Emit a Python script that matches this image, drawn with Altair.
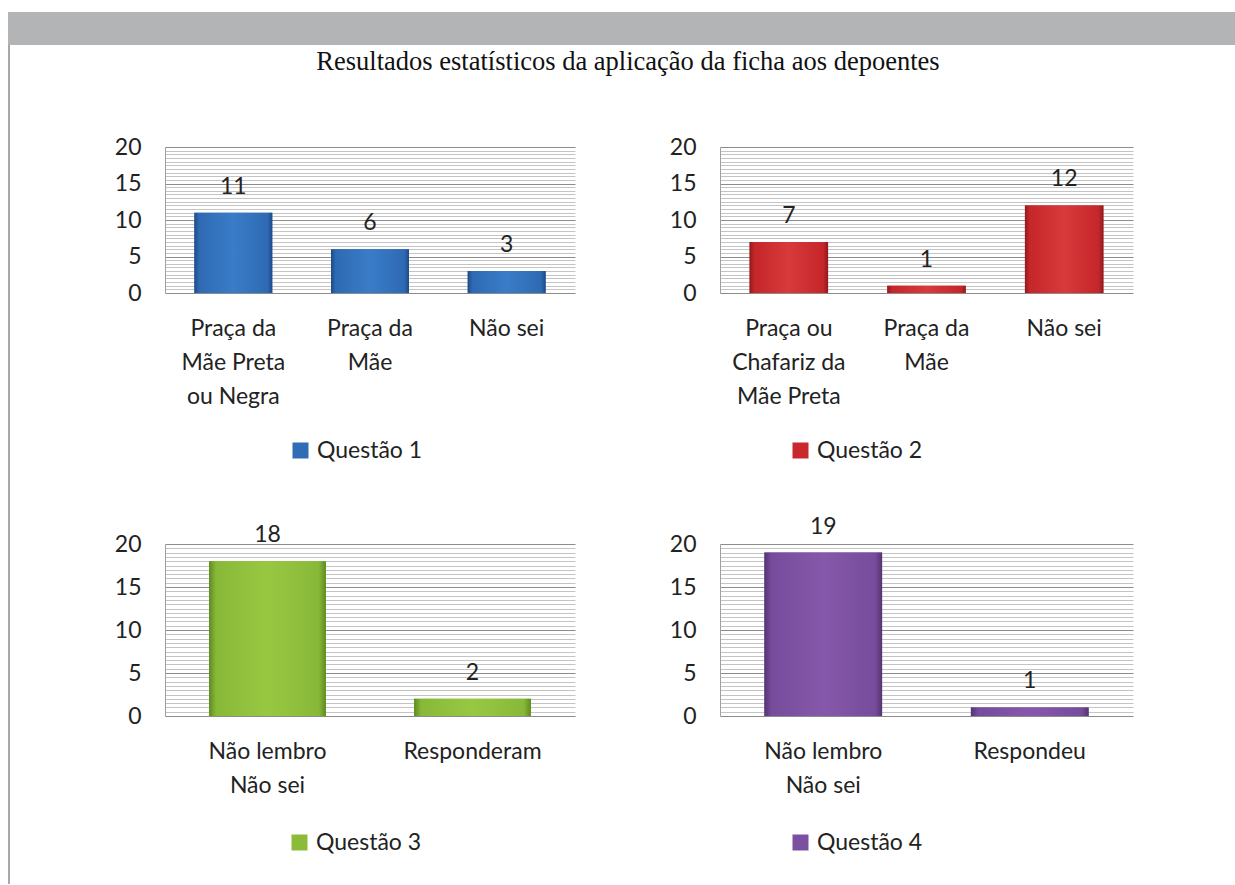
import altair as alt
import pandas as pd

TITLE = "Resultados estatísticos da aplicação da ficha aos depoentes"

cats1 = ["Praça da|Mãe Preta|ou Negra", "Praça da|Mãe", "Não sei"]
vals1 = [11, 6, 3]
cats2 = ["Praça ou|Chafariz da|Mãe Preta", "Praça da|Mãe", "Não sei"]
vals2 = [7, 1, 12]
cats3 = ["Não lembro|Não sei", "Responderam"]
vals3 = [18, 2]
cats4 = ["Não lembro|Não sei", "Respondeu"]
vals4 = [19, 1]
series = ["Questão 1", "Questão 2", "Questão 3", "Questão 4"]

y_ticks = [i / 2 for i in range(41)]
FONT = "Lato"
FS = 23
TXT = "#222222"


def grad(edge, center, light):
    return alt.LinearGradient(
        gradient="linear", x1=0, x2=1, y1=0, y2=0,
        stops=[
            alt.GradientStop(offset=0, color=edge),
            alt.GradientStop(offset=0.06, color=center),
            alt.GradientStop(offset=0.5, color=light),
            alt.GradientStop(offset=0.94, color=center),
            alt.GradientStop(offset=1, color=edge),
        ],
    )


def panel(cats, vals, ser, solid, edge, center, light, width, height, lx, ly, deco=None):
    df = pd.DataFrame({"cat": cats, "v": vals, "s": [ser] * len(cats)})
    x = alt.X(
        "cat:N", sort=cats, title=None,
        scale=alt.Scale(paddingInner=0.43, paddingOuter=0.215),
        axis=alt.Axis(
            labelExpr="split(datum.label, '|')", labelAngle=0, labelFontSize=FS,
            labelFont=FONT, labelColor=TXT, labelLineHeight=34, labelPadding=24,
            domain=False, ticks=False, labelLimit=0, grid=False,
        ),
    )
    y = alt.Y(
        "v:Q", title=None,
        scale=alt.Scale(domain=[0, 20], nice=False),
        axis=alt.Axis(
            values=y_ticks,
            labelExpr="datum.value % 5 === 0 ? format(datum.value, 'd') : ''",
            labelOverlap=False, ticks=False, labelFontSize=FS, labelFont=FONT,
            labelColor=TXT, labelPadding=24, domain=True, domainColor="#a0a0a0",
            grid=True, gridWidth=1,
            gridColor={"condition": {"test": "datum.value % 5 === 0", "value": "#8c8c8c"},
                       "value": "#c4c4c4"},
        ),
    )
    base = alt.Chart(df).encode(x=x, y=y)
    bars = base.mark_bar().encode(
        color=alt.Color(
            "s:N", scale=alt.Scale(domain=[ser], range=[solid]),
            legend=alt.Legend(
                orient="none", legendX=lx, legendY=ly, title=None,
                symbolType="square", symbolSize=256, symbolStrokeWidth=0,
                labelFontSize=FS, labelFont=FONT, labelColor=TXT,
                padding=0, labelOffset=5,
            ),
        )
    )
    shade = base.mark_bar(color=grad(edge, center, light))
    labels = base.mark_text(dy=-26, fontSize=FS, font=FONT, color=TXT).encode(text="v:Q")
    layers = [bars, shade, labels]
    if deco:
        layers = deco + layers
    return alt.layer(*layers).properties(width=width, height=height)


one = alt.Data(values=[{"a": 1}])
banner = alt.Chart(one).mark_rect(color="#b3b4b6").encode(
    x=alt.value(-157), x2=alt.value(1070), y=alt.value(-135), y2=alt.value(-102)
)
border = alt.Chart(one).mark_rule(color="#a8a8a8", strokeWidth=2).encode(
    x=alt.value(-156), y=alt.value(-102), y2=alt.value(737)
)
title = alt.Chart(one).mark_text(
    text=TITLE, font="Liberation Serif", fontSize=26.5, color="#111111", align="center"
).encode(x=alt.value(463), y=alt.value(-85))

p1 = panel(cats1, vals1, series[0], "#2f6db5", "#1d4a85", "#2e6ab3", "#3a7cc8",
           410, 146, 124, 292, deco=[banner, border, title])
p2 = panel(cats2, vals2, series[1], "#c9282d", "#8e1a1e", "#c52629", "#d83a3c",
           413, 146, 69, 292)
p3 = panel(cats3, vals3, series[2], "#8cbb3a", "#5f8a22", "#88b838", "#98c842",
           410, 172, 123, 287)
p4 = panel(cats4, vals4, series[3], "#7b50a0", "#553472", "#774c9c", "#8658ab",
           413, 172, 69, 287)

chart = alt.concat(
    p1, p2, p3, p4, columns=2,
    spacing={"row": 251, "column": 145}, bounds="flush",
).properties(
    padding={"left": 8, "top": 12, "right": 0, "bottom": 0},
    background="white",
).configure_view(stroke=None).resolve_scale(color="independent")

chart.save("out.html", embed_options={"renderer": "svg", "actions": False})
